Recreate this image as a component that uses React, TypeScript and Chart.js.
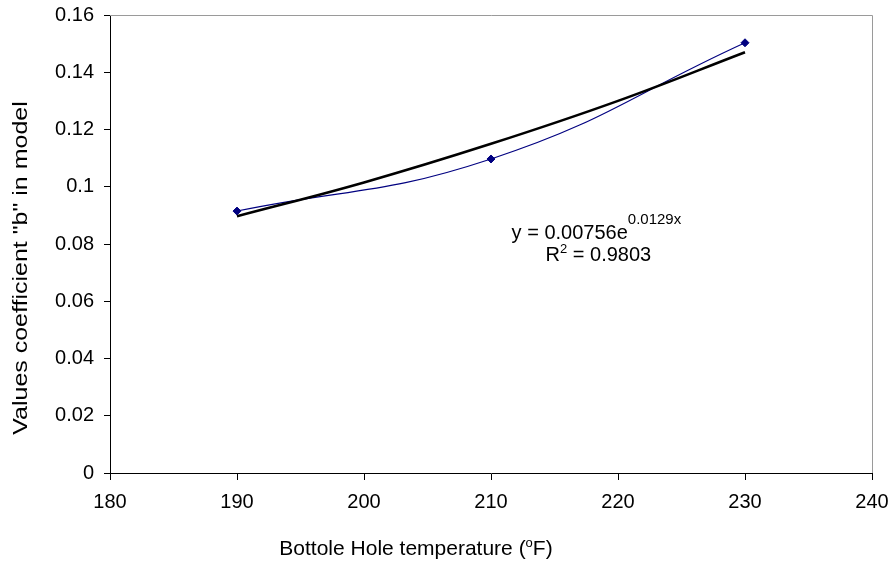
import React, { useEffect, useRef } from "react";
import { Chart, registerables } from "chart.js";

Chart.register(...registerables);

// ---- data ----
const temps = [190, 210, 230];
const bValues = [0.0915, 0.1097, 0.1503];

const trendTemps = [190, 200, 210, 220, 230];
const trendValues = [0.0897, 0.1015, 0.115, 0.13, 0.147];

const xTickValues = [180, 190, 200, 210, 220, 230, 240];
const xTickLabels = ["180", "190", "200", "210", "220", "230", "240"];
const yTickValues = [0, 0.02, 0.04, 0.06, 0.08, 0.1, 0.12, 0.14, 0.16];
const yTickLabels = ["0", "0.02", "0.04", "0.06", "0.08", "0.1", "0.12", "0.14", "0.16"];

const eqLine1 = ["y = 0.00756e", "0.0129x"];
const eqLine2 = ["R", "2", " = 0.9803"];
const xTitleParts = ["Bottole Hole temperature (", "o", "F)"];
const yTitleText = 'Values coefficient "b" in model';

// ---- style ----
const FONT = '"Liberation Sans", Arial, Helvetica, sans-serif';
const EQ_X = 218.3; // data coords for equation label
const EQ_Y1 = 0.0818;
const EQ_Y2 = 0.0742;

type Run = { text: string; size: number; raise: number };

function drawRuns(ctx: CanvasRenderingContext2D, runs: Run[], cx: number, baseline: number) {
  let total = 0;
  const widths = runs.map((r) => {
    ctx.font = `${r.size}px ${FONT}`;
    const w = ctx.measureText(r.text).width;
    total += w;
    return w;
  });
  let x = cx - total / 2;
  runs.forEach((r, i) => {
    ctx.font = `${r.size}px ${FONT}`;
    ctx.fillText(r.text, x, baseline - r.raise);
    x += widths[i];
  });
}

const decor = {
  id: "decor",
  beforeDatasetsDraw(chart: any) {
    const { ctx, chartArea: a } = chart;
    ctx.save();
    ctx.strokeStyle = "#9a9a9a";
    ctx.lineWidth = 1;
    ctx.beginPath();
    ctx.moveTo(a.left, Math.round(a.top) + 0.5);
    ctx.lineTo(Math.round(a.right) + 0.5, Math.round(a.top) + 0.5);
    ctx.lineTo(Math.round(a.right) + 0.5, a.bottom);
    ctx.stroke();
    ctx.restore();
  },
  afterDraw(chart: any) {
    const { ctx } = chart;
    const xs = chart.scales.x;
    const ys = chart.scales.y;
    ctx.save();
    ctx.fillStyle = "#000";
    ctx.textAlign = "left";
    ctx.textBaseline = "alphabetic";
    const cx = xs.getPixelForValue(EQ_X);
    drawRuns(
      ctx,
      [
        { text: eqLine1[0], size: 20, raise: 0 },
        { text: eqLine1[1], size: 15, raise: 15 },
      ],
      cx,
      ys.getPixelForValue(EQ_Y1)
    );
    drawRuns(
      ctx,
      [
        { text: eqLine2[0], size: 20, raise: 0 },
        { text: eqLine2[1], size: 13, raise: 8 },
        { text: eqLine2[2], size: 20, raise: 0 },
      ],
      cx + 2,
      ys.getPixelForValue(EQ_Y2)
    );
    // x axis title
    drawRuns(
      ctx,
      [
        { text: xTitleParts[0], size: 21, raise: 0 },
        { text: xTitleParts[1], size: 13, raise: 8 },
        { text: xTitleParts[2], size: 21, raise: 0 },
      ],
      416,
      555
    );
    // y axis title
    ctx.translate(27, 268);
    ctx.rotate(-Math.PI / 2);
    ctx.scale(1.19, 1);
    ctx.textAlign = "center";
    ctx.font = `21px ${FONT}`;
    ctx.fillText(yTitleText, 0, 0);
    ctx.restore();
  },
};

export default function App() {
  const ref = useRef<HTMLCanvasElement>(null);
  useEffect(() => {
    if (!ref.current) return;
    const chart = new Chart(ref.current, {
      type: "line",
      data: {
        datasets: [
          {
            label: "Trend",
            data: trendTemps.map((t, i) => ({ x: t, y: trendValues[i] })),
            borderColor: "#000000",
            borderWidth: 2.6,
            pointRadius: 0,
            tension: 0.4,
            fill: false,
            order: 0,
          },
          {
            label: "b",
            data: temps.map((t, i) => ({ x: t, y: bValues[i] })),
            borderColor: "#000080",
            backgroundColor: "#000080",
            borderWidth: 1.1,
            pointStyle: "rectRot",
            pointRadius: 4,
            pointBorderWidth: 1,
            tension: 0.45,
            fill: false,
            order: 1,
          },
        ],
      },
      options: {
        responsive: false,
        animation: false,
        devicePixelRatio: 1,
        layout: { padding: { left: 0, right: 21, top: 15, bottom: 0 } },
        plugins: { legend: { display: false }, tooltip: { enabled: false } },
        scales: {
          x: {
            type: "linear",
            min: 180,
            max: 240,
            afterBuildTicks: (s: any) => {
              s.ticks = xTickValues.map((v) => ({ value: v }));
            },
            afterFit: (s: any) => {
              s.height = 92;
              s.paddingLeft = 0;
              s.paddingRight = 0;
              s.paddingTop = 0;
              s.paddingBottom = 0;
            },
            grid: { display: true, drawOnChartArea: false, drawTicks: true, tickLength: 7, color: "#000" },
            border: { display: true, color: "#000", width: 1 },
            ticks: {
              padding: 10,
              color: "#000",
              font: { family: FONT, size: 20 },
              maxRotation: 0,
              autoSkip: false,
              callback: (_v: any, i: number) => xTickLabels[i],
            },
          },
          y: {
            type: "linear",
            min: 0,
            max: 0.16,
            afterBuildTicks: (s: any) => {
              s.ticks = yTickValues.map((v) => ({ value: v }));
            },
            afterFit: (s: any) => {
              s.width = 110;
              s.paddingLeft = 0;
              s.paddingRight = 0;
              s.paddingTop = 0;
              s.paddingBottom = 0;
            },
            grid: { display: true, drawOnChartArea: false, drawTicks: true, tickLength: 6, color: "#000" },
            border: { display: true, color: "#000", width: 1 },
            ticks: {
              padding: 10,
              color: "#000",
              font: { family: FONT, size: 20 },
              autoSkip: false,
              callback: (_v: any, i: number) => yTickLabels[i],
            },
          },
        },
      },
      plugins: [decor],
    });
    return () => chart.destroy();
  }, []);
  return (
    <canvas
      ref={ref}
      width={893}
      height={565}
      style={{ position: "absolute", left: 0, top: 0, width: 893, height: 565, display: "block" }}
    />
  );
}
